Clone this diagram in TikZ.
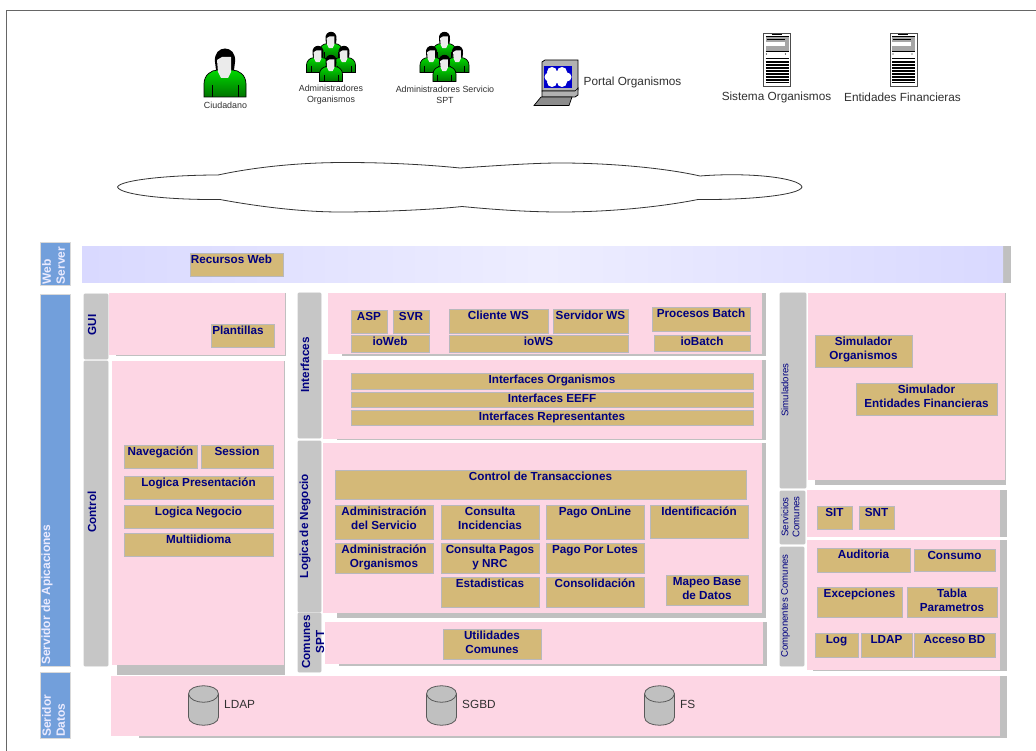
\documentclass[tikz,border=0pt]{standalone}
\usepackage{fontspec}
\setmainfont{Liberation Sans}
\usetikzlibrary{fit,positioning}
\definecolor{pinkpanel}{HTML}{FDD6E4}
\definecolor{shadowgrey}{HTML}{C0C0C0}
\definecolor{tabgrey}{HTML}{C6C6C6}
\definecolor{tabblue}{HTML}{729FDB}
\definecolor{modtan}{HTML}{D4B978}
\definecolor{modedge}{HTML}{B8B8BC}
\definecolor{navytext}{HTML}{000080}
\definecolor{icontext}{HTML}{303030}
\tikzset{
  panel/.style={fill=pinkpanel,inner sep=0pt},
  modbox/.style={fill=modtan,draw=modedge,line width=0.7pt,inner sep=0pt},
  modtext/.style={anchor=north,inner sep=2.5pt,align=center,text=navytext,font=\fontsize{11.7}{14}\selectfont\bfseries},
  tabbar/.style={fill=tabgrey,draw=black!22,line width=0.8pt,rounded corners=1pt,inner sep=0pt},
  bluebar/.style={fill=tabblue,draw=black!15,line width=0.8pt,inner sep=0pt},
  tablabel/.style={rotate=90,align=center,inner sep=0pt,text=navytext,font=\fontsize{11.7}{14}\selectfont\bfseries},
  thinlabel/.style={rotate=90,align=center,inner sep=0pt,text=navytext,font=\fontsize{9.6}{11}\selectfont},
  bluelabel/.style={rotate=90,align=left,inner sep=0pt,text=blue!8,font=\fontsize{12}{14}\selectfont\bfseries},
  iconlabel/.style={align=center,inner sep=0pt,text=icontext,font=\fontsize{8.9}{11}\selectfont},
  biglabel/.style={inner sep=0pt,text=icontext,font=\fontsize{11.8}{14}\selectfont}
}
% #1 name, #2-#5 corners, #6 text
\newcommand{\modulo}[6]{\node (#1) [modbox,fit={(#2,#3)(#4,#5)},label={[modtext]north:{#6}}] {};}
% #1 name, #2-#5 corners, #6 shadow left, #7 shadow right, #8 shadow bottom
\newcommand{\capa}[8]{
  \fill [shadowgrey] (#6,#3) rectangle (#7,#8);
  \node (#1) [panel,fit={(#2,#3)(#4,#5)}] {};
}
\newcommand{\personicon}[3]{
  \begin{scope}[shift={(#1,#2)},scale=#3]
  \fill [black] (-10,15) .. controls (-12,-3) and (12,-3) .. (10,15) -- (9,23) -- (-9,23) -- cycle;
  \draw [black,line width=0.7pt,top color=green!85!black,bottom color=green!45!black]
    (-21,50) -- (-21,37) .. controls (-21,28) and (-14,23) .. (-7,23) -- (7,23) .. controls (14,23) and (21,28) .. (21,37) -- (21,50) -- cycle;
  \draw [black,line width=0.5pt] (-13,38) -- (-13,50) (13,38) -- (13,50);
  \fill [black!8] (-8,13) -- (-3,10) -- (6,10) -- (6,25) -- (3,31) -- (-4,31) -- (-7,25) -- cycle;
  \end{scope}
}
\newcommand{\groupicon}[1]{
  \personicon{#1}{31}{0.55}
  \personicon{#1-13}{45}{0.55}
  \personicon{#1+13}{45}{0.55}
  \personicon{#1}{54}{0.55}
}
\newcommand{\servericon}[1]{
  \begin{scope}[shift={(#1,33)}]
  \draw [black!70,fill=white,line width=0.8pt] (0,0) rectangle (27,53);
  \fill [black!35] (2,4) rectangle (25,19);
  \fill [white] (2,9) rectangle (21,13);
  \draw [black,line width=1pt] (2,4) -- (25,4) (8,2) -- (18,2) (3,7) -- (21,7) (2,19) -- (25,19);
  \fill [black] (3,21) circle (0.7) (22,21) circle (0.7);
  \foreach \yy/\ww in {26/1,29/1.5,32/2,35/2.4,38/2.4,41/2,44/1.5,47/1.2,50/1}
    \draw [black,line width=\ww pt] (2,\yy) -- (25,\yy);
  \end{scope}
}
\newcommand{\dbicon}[1]{
  \begin{scope}[shift={(#1,686)}]
  \draw [black!65,fill=shadowgrey,line width=0.8pt] (0,8) .. controls (0,-3) and (30,-3) .. (30,8) -- (30,31)
    .. controls (30,42) and (0,42) .. (0,31) -- cycle;
  \draw [black!65,line width=0.8pt] (0,8) .. controls (2,19) and (28,19) .. (30,8);
  \end{scope}
}
\begin{document}
\begin{tikzpicture}[x=1pt,y=-1pt]
\useasboundingbox (0,0) rectangle (1036,751);
\fill [white] (0,0) rectangle (1036,751);
\draw [black!60,line width=1pt] (6,751) -- (6,11) -- (1036,11);
% usuarios
\personicon{225}{47}{1}
\groupicon{331}
\groupicon{444.5}
\node (ciudadano) [iconlabel] at (225.5,105) {Ciudadano};
\node (adminOrg) [iconlabel] at (331,94.5) {Administradores\\Organismos};
\node (adminSpt) [iconlabel] at (445,94.5) {Administradores Servicio\\SPT};
% portal
\draw [black,fill=black!30,line width=0.7pt] (542,62) -- (545,60) -- (578,60) -- (578,90) -- (575,91) -- (542,91) -- cycle;
\fill [blue!80!black] (543.5,66) rectangle (571.5,88);
\fill [white] (552,72) circle (5) (562,72) circle (5) (567,77) circle (4.5) (562,82) circle (5) (552,82) circle (5) (549,77) circle (4.5) (557,77) circle (6);
\draw [black,fill=black!30,line width=0.7pt] (542,91) -- (575,91) -- (578,88) -- (578,95) -- (575,97) -- (542,97) -- cycle;
\draw [black,fill=black!45,line width=0.7pt] (541,97) -- (572,97) -- (569,105.5) -- (534,105.5) -- cycle;
\node (portal) [biglabel,anchor=west] at (583.5,82) {Portal Organismos};
\servericon{763.5}
\servericon{890}
\node (sistema) [biglabel] at (776.5,97) {Sistema Organismos};
\node (entidades) [biglabel] at (902.5,97) {Entidades Financieras};
% nube
\draw [black!80,fill=white,line width=0.8pt] (117.5,187) .. controls (120,180) and (170,175) .. (218,175)
  .. controls (260,166) and (305,162.5) .. (345,162.5) .. controls (395,162.5) and (435,165.5) .. (460,168)
  .. controls (485,166.5) and (530,163) .. (560,163) .. controls (610,163) and (665,168) .. (700,176)
  .. controls (750,172) and (800,178) .. (802,187) .. controls (800,195) and (750,200) .. (698,199.5)
  .. controls (660,207) and (610,212) .. (560,212) .. controls (525,212) and (488,209) .. (462,206.5)
  .. controls (435,209.5) and (380,212) .. (340,212) .. controls (300,212) and (255,206) .. (220,199.5)
  .. controls (170,200) and (120,195) .. (117.5,187) -- cycle;
% web server
\node (tabWeb) [bluebar,fit={(40,242)(70,285)}] {};
\node (lblWeb) [bluelabel] at (53.5,265.5) {Web\\Server};
\fill [shadowgrey] (110,246) rectangle (1011,283);
\node (bandWeb) [inner sep=0pt,fit={(82,247)(1003,283)},left color=blue!15,right color=blue!15,middle color=blue!7] {};
\modulo{recursos}{190}{253}{283}{276}{Recursos Web\hspace{10pt}}
% servidor de aplicaciones
\node (tabServidor) [bluebar,fit={(40,294)(70,666)}] {};
\node (lblServidor) [bluelabel,anchor=west] at (47,665) {Servidor de Apicaciones};
\node (tabGui) [tabbar,fit={(84,294)(108,359)}] {};
\node (lblGui) [tablabel] at (92,325) {GUI};
\node (tabControl) [tabbar,fit={(84,361)(108,666)}] {};
\node (lblControl) [tablabel] at (92,512) {Control};
\capa{panelGui}{109}{293}{285}{355}{116}{286}{356}
\modulo{plantillas}{211}{324}{274}{347}{Plantillas\hspace{9pt}}
\capa{panelControl}{112}{361}{284}{665}{117}{285}{675}
\modulo{navegacion}{124}{445}{197}{468}{Navegación}
\modulo{session}{201}{445}{273}{468}{Session}
\modulo{presentacion}{124}{476}{273}{499}{Logica Presentación}
\modulo{negocio}{124}{505}{273}{528}{Logica Negocio}
\modulo{multiidioma}{124}{533}{273}{556}{Multiidioma}
% interfaces
\node (tabInterfaces) [tabbar,fit={(298,293)(321,438)}] {};
\node (lblInterfaces) [tablabel] at (305,365) {Interfaces};
\capa{panelIo}{328}{293}{762}{354}{342}{766}{356}
\capa{panelInterfaces}{323}{360}{762}{439}{337}{766}{440}
\modulo{asp}{351}{310}{387}{333}{ASP}
\modulo{svr}{393}{310}{429}{333}{SVR}
\modulo{ioWeb}{351}{335}{429}{352}{ioWeb}
\modulo{clienteWs}{449}{309}{548}{333}{Cliente WS}
\modulo{servidorWs}{553}{309}{628}{333}{Servidor WS}
\modulo{ioWs}{449}{335}{628}{352}{ioWS}
\modulo{batch}{652}{307}{750}{331}{Procesos Batch}
\modulo{ioBatch}{654}{335}{750}{351}{ioBatch}
\modulo{intOrg}{351}{373}{753}{389}{Interfaces Organismos}
\modulo{intEeff}{351}{392}{753}{407}{Interfaces EEFF}
\modulo{intRep}{351}{410}{753}{425}{Interfaces Representantes}
% logica de negocio
\node (tabLogica) [tabbar,fit={(298,441)(321,612)}] {};
\node (lblLogica) [tablabel] at (305,526) {Logica de Negocio};
\capa{panelLogica}{323}{443}{762}{613}{337}{766}{618}
\modulo{transacciones}{335}{470}{746}{499}{Control de Transacciones}
\modulo{adminServ}{335}{505}{433}{539}{Administración\\del Servicio}
\modulo{incidencias}{441}{505}{539}{539}{Consulta\\Incidencias}
\modulo{online}{546}{505}{644}{539}{Pago OnLine}
\modulo{identificacion}{650}{505}{748}{538}{Identificación}
\modulo{adminOrgs}{335}{543}{433}{573}{Administración\\Organismos}
\modulo{pagos}{441}{543}{539}{573}{Consulta Pagos\\y NRC}
\modulo{lotes}{546}{543}{644}{573}{Pago Por Lotes}
\modulo{estadisticas}{441}{577}{539}{607}{Estadisticas}
\modulo{consolidacion}{546}{577}{644}{607}{Consolidación}
\modulo{mapeo}{666}{575}{748}{605}{Mapeo Base\\de Datos}
% comunes
\node (tabComunes) [tabbar,fit={(298,613)(321,672)}] {};
\capa{panelComunes}{325}{622}{763}{664}{339}{767}{666}
\node (lblComunes) [tablabel] at (313,642) {Comunes\\SPT};
\modulo{utilidades}{443}{629}{541}{659}{Utilidades\\Comunes}
% simuladores
\node (tabSim) [tabbar,fit={(780,293)(806,488)}] {};
\node (lblSim) [thinlabel] at (785,390) {Simuladores};
\capa{panelSim}{808}{293}{1005}{480}{815}{1006}{485}
\modulo{simOrg}{815}{335}{912}{367}{Simulador\\Organismos}
\modulo{simEnt}{856}{383}{997}{415}{Simulador\\Entidades Financieras}
% servicios comunes
\node (tabServicios) [tabbar,fit={(780,491)(805,544)}] {};
\node (lblServicios) [thinlabel] at (790.5,517) {Servicios\\Comunes};
\capa{panelServicios}{807}{490}{1000}{537}{813}{1007}{537}
\modulo{sit}{817}{506}{852}{529}{SIT}
\modulo{snt}{859}{506}{894}{529}{SNT}
% componentes comunes
\node (tabComp) [tabbar,fit={(780,547)(804,666)}] {};
\node (lblComp) [thinlabel] at (785.5,606) {Componentes Comunes};
\capa{panelComp}{807}{540}{1000}{670}{813}{1007}{671}
\modulo{auditoria}{817}{548}{910}{572}{Auditoria}
\modulo{consumo}{914}{549}{995}{571}{Consumo}
\modulo{excepciones}{817}{587}{902}{617}{Excepciones}
\modulo{tabla}{907}{587}{997}{617}{Tabla\\Parametros}
\modulo{log}{815}{633}{858}{657}{Log}
\modulo{ldapMod}{861}{633}{912}{657}{LDAP}
\modulo{accesoBd}{914}{633}{995}{657}{Acceso BD}
% datos
\node (tabDatos) [bluebar,fit={(40,672)(70,738)}] {};
\node (lblDatos) [bluelabel,anchor=west] at (53.5,737) {Seridor\\Datos};
\capa{panelDatos}{111}{676}{1000}{736}{139}{1007}{738}
\dbicon{188.5}
\dbicon{426.5}
\dbicon{644.5}
\node (dbLdap) [biglabel,anchor=west] at (224,704.5) {LDAP};
\node (dbSgbd) [biglabel,anchor=west] at (462,704.5) {SGBD};
\node (dbFs) [biglabel,anchor=west] at (680,704.5) {FS};
\end{tikzpicture}
\end{document}
